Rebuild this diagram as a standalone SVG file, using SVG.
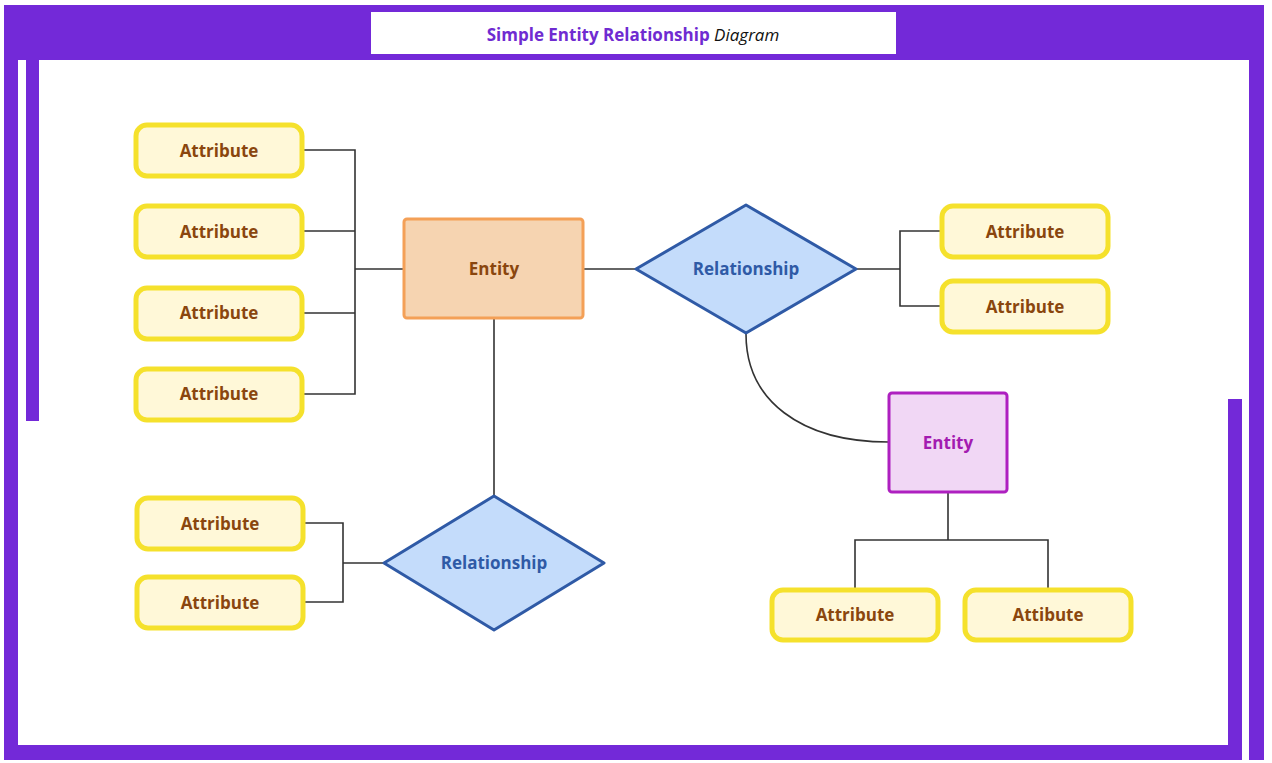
<svg xmlns="http://www.w3.org/2000/svg" width="1272" height="763" viewBox="0 0 1272 763">
<style>
.f{fill:#7329d8}
.a rect{fill:#fff8d8;stroke:#f5e12c;stroke-width:5}
.a text{fill:#8a460e}
text{font-family:"Open Sans","Noto Sans",sans-serif;font-weight:bold;font-size:17px;text-anchor:middle}
.c{fill:none;stroke:#333;stroke-width:1.6}
</style>
<rect width="1272" height="763" fill="#fff"/>
<rect class="f" x="4" y="5" width="1260" height="55"/>
<rect class="f" x="4" y="5" width="14" height="755"/>
<rect class="f" x="1249" y="5" width="15" height="755"/>
<rect class="f" x="18" y="745" width="1224" height="15"/>
<rect class="f" x="26" y="60" width="13" height="361"/>
<rect class="f" x="1228" y="399" width="14" height="361"/>
<rect x="371" y="12" width="525" height="42" fill="#fff"/>
<text x="633" y="41" font-size="23" fill="#6f2bd1">Simple Entity Relationship <tspan font-weight="normal" font-style="italic" fill="#111">Diagram</tspan></text>
<g id="connectors">
<path class="c" d="M302 150H355V394H302M302 231H355M302 313H355M355 269H404"/>
<path class="c" d="M583 269H636"/>
<path class="c" d="M856 269H900M942 231H900V306H942"/>
<path class="c" d="M746 334C746 400 800 442 889 442"/>
<path class="c" d="M494 318V496"/>
<path class="c" d="M948 492V540M855 590V540H1048V590"/>
<path class="c" d="M384 563H343M303 523H343V602H303"/>
</g>
<g id="a1" class="a"><rect x="136" y="125" width="166" height="51" rx="11"/><text x="219" y="157">Attribute</text></g>
<g id="a2" class="a"><rect x="136" y="206" width="166" height="51" rx="11"/><text x="219" y="238">Attribute</text></g>
<g id="a3" class="a"><rect x="136" y="288" width="166" height="51" rx="11"/><text x="219" y="319">Attribute</text></g>
<g id="a4" class="a"><rect x="136" y="369" width="166" height="51" rx="11"/><text x="219" y="400">Attribute</text></g>
<g id="entity1"><rect x="404" y="219" width="179" height="99" rx="3" fill="#f6d4b1" stroke="#f4a057" stroke-width="3"/><text x="494" y="275" fill="#8a460e">Entity</text></g>
<g id="rel1"><path d="M746 205L856 269L746 333L636 269Z" fill="#c4dcfb" stroke="#2f5aa6" stroke-width="3" stroke-linejoin="round"/><text x="746" y="275" fill="#2f5aa6">Relationship</text></g>
<g id="a5" class="a"><rect x="942" y="206" width="166" height="51" rx="11"/><text x="1025" y="238">Attribute</text></g>
<g id="a6" class="a"><rect x="942" y="281" width="166" height="51" rx="11"/><text x="1025" y="313">Attribute</text></g>
<g id="entity2"><rect x="889" y="393" width="118" height="99" rx="3" fill="#f1d7f5" stroke="#ae20c0" stroke-width="3"/><text x="948" y="449" fill="#a31bb0">Entity</text></g>
<g id="a7" class="a"><rect x="772" y="590" width="166" height="50" rx="11"/><text x="855" y="621">Attribute</text></g>
<g id="a8" class="a"><rect x="965" y="590" width="166" height="50" rx="11"/><text x="1048" y="621">Attibute</text></g>
<g id="rel2"><path d="M494 496L604 563L494 630L384 563Z" fill="#c4dcfb" stroke="#2f5aa6" stroke-width="3" stroke-linejoin="round"/><text x="494" y="569" fill="#2f5aa6">Relationship</text></g>
<g id="a9" class="a"><rect x="137" y="498" width="166" height="51" rx="11"/><text x="220" y="530">Attribute</text></g>
<g id="a10" class="a"><rect x="137" y="577" width="166" height="51" rx="11"/><text x="220" y="609">Attribute</text></g>
</svg>
